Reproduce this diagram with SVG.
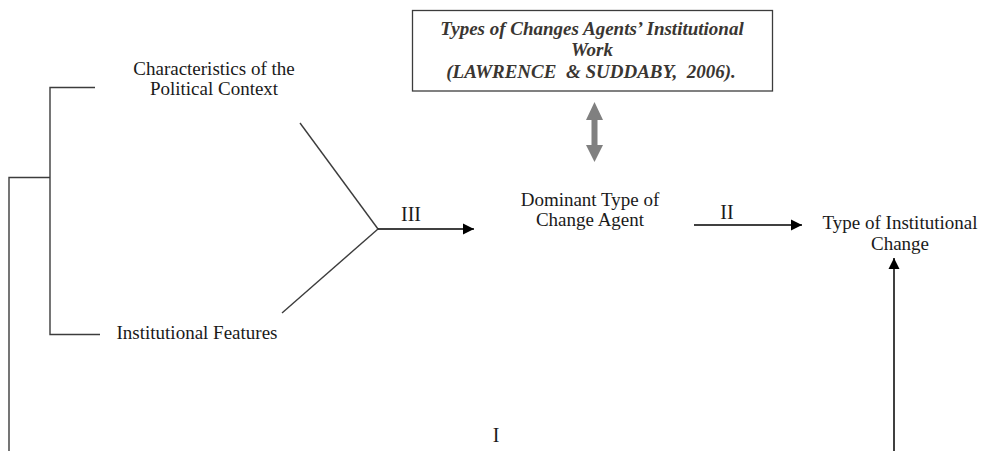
<svg xmlns="http://www.w3.org/2000/svg" width="984" height="451" viewBox="0 0 984 451">
<defs>
<style>
.t{font-family:"Liberation Serif","Times New Roman",serif;font-size:19px;fill:#1a1a1a;text-anchor:middle}
.r{font-family:"Liberation Serif","Times New Roman",serif;font-size:20px;fill:#1a1a1a;text-anchor:middle}
.b{font-family:"Liberation Serif","Times New Roman",serif;font-size:19px;font-weight:bold;font-style:italic;fill:#3a3632;text-anchor:middle}
.ln{stroke:#3c3c3c;stroke-width:1.4;fill:none}
.ar{stroke:#000;stroke-width:1.5;fill:none}
</style>
<marker id="ah" markerWidth="12" markerHeight="12" refX="11" refY="6" orient="auto" markerUnits="userSpaceOnUse">
<path d="M0,0.5 L11,6 L0,11.5 Z" fill="#000"/>
</marker>
</defs>
<rect width="984" height="451" fill="#fff"/>

<g id="node-box">
<rect x="412.5" y="10.5" width="360" height="80.5" fill="#fff" stroke="#3c3c3c" stroke-width="1.3"/>
<text class="b" x="592" y="35">Types of Changes Agents’ Institutional</text>
<text class="b" x="592" y="56">Work</text>
<text class="b" x="591" y="78" xml:space="preserve">(LAWRENCE  &amp; SUDDABY,  2006).</text>
</g>

<g id="node-political">
<text class="t" x="214" y="75">Characteristics of the</text>
<text class="t" x="214" y="95">Political Context</text>
</g>

<g id="node-institutional">
<text class="t" x="197" y="339">Institutional Features</text>
</g>

<g id="node-agent">
<text class="t" x="590" y="206">Dominant Type of</text>
<text class="t" x="590" y="226">Change Agent</text>
</g>

<g id="node-change">
<text class="t" x="900" y="229">Type of Institutional</text>
<text class="t" x="900" y="250">Change</text>
</g>

<g id="connectors">
<polyline class="ln" points="95,87.5 50,87.5 50,334.5 100,334.5"/>
<polyline class="ln" points="50,177.5 9,177.5 9,451"/>
<line class="ln" x1="300" y1="123" x2="378" y2="229"/>
<line class="ln" x1="282" y1="313" x2="378" y2="229"/>
<line class="ar" x1="378" y1="229" x2="474" y2="229" marker-end="url(#ah)"/>
<line class="ar" x1="694" y1="225" x2="802" y2="225" marker-end="url(#ah)"/>
<line class="ar" x1="894" y1="451" x2="894" y2="258" marker-end="url(#ah)"/>
<path d="M594.5,102 L603,120 L597.5,120 L597.5,145 L603,145 L594.5,162 L586,145 L591.5,145 L591.5,120 L586,120 Z" fill="#808080"/>
<text class="r" x="411" y="221">III</text>
<text class="r" x="727" y="219">II</text>
<text class="r" x="496" y="442">I</text>
</g>
</svg>
